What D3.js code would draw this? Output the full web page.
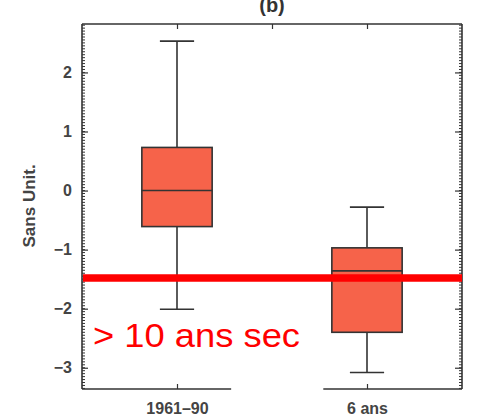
<!DOCTYPE html>
<html>
<head>
<meta charset="utf-8">
<script src="https://cdn.jsdelivr.net/npm/d3@7"></script>
<style>
  body { margin: 0; background: #fff; }
  svg text { font-family: "Liberation Sans", Arial, sans-serif; }
</style>
</head>
<body>
<div id="chart"></div>
<script>
// categories (the middle slot is empty in the source figure)
var categories = ["1961–90", "", "6 ans"];
var catPos = [1, 2, 3];
// box statistics
var whiskerHigh = [2.53, null, -0.28];
var q3 = [0.73, null, -0.97];
var medians = [0.0, null, -1.36];
var q1 = [-0.61, null, -2.40];
var whiskerLow = [-2.01, null, -3.08];
var yTicks = [-3, -2, -1, 0, 1, 2];
var threshold = -1.48;
var thresholdLabel = "> 10 ans sec";
var yLabel = "Sans Unit.";
var title = "(b)";

var W = 490, H = 418;
var mLeft = 82, mRight = 462, mTop = 24, mBottom = 389;

var svg = d3.select("#chart").append("svg").attr("width", W).attr("height", H);

var x = d3.scaleLinear().domain([0, 4]).range([mLeft, mRight]);
var y = d3.scaleLinear().domain([-3.36, 2.82]).range([mBottom, mTop]);

var ink = "#333";
var boxW = 0.74, capW = 0.36;

var boxes = categories.map(function (c, i) {
    return { name: c, pos: catPos[i], hi: whiskerHigh[i], q3: q3[i], med: medians[i], q1: q1[i], lo: whiskerLow[i] };
}).filter(function (d) { return d.med !== null; });

// minor ticks every 0.05
var minor = d3.range(-3.35, 2.82, 0.05).map(function (v) { return Math.round(v * 100) / 100; });

// left axis
var la = svg.append("g").attr("transform", "translate(" + mLeft + ",0)");
la.selectAll(".mn").data(minor).enter().append("line")
    .attr("x1", 0).attr("x2", 3)
    .attr("y1", function (d) { return y(d); }).attr("y2", function (d) { return y(d); })
    .attr("stroke", ink).attr("stroke-width", 1);
la.call(d3.axisLeft(y).tickValues(yTicks).tickSizeInner(-6).tickSizeOuter(0)
    .tickFormat(function (d) { return d3.format("d")(d).replace("-", "−"); }).tickPadding(10));
la.select(".domain").remove();
la.selectAll(".tick line").attr("stroke", ink).attr("stroke-width", 1.2);
la.selectAll(".tick text").attr("font-size", 16).attr("font-weight", "bold").attr("fill", "#444");

// right axis
var ra = svg.append("g").attr("transform", "translate(" + mRight + ",0)");
ra.selectAll(".mn").data(minor).enter().append("line")
    .attr("x1", 0).attr("x2", -3)
    .attr("y1", function (d) { return y(d); }).attr("y2", function (d) { return y(d); })
    .attr("stroke", ink).attr("stroke-width", 1);
ra.call(d3.axisRight(y).tickValues(yTicks).tickSizeInner(-7).tickSizeOuter(0).tickFormat(""));
ra.select(".domain").remove();
ra.selectAll(".tick line").attr("stroke", ink).attr("stroke-width", 1.2);

// top axis
var ta = svg.append("g").attr("transform", "translate(0," + mTop + ")");
ta.call(d3.axisTop(x).tickValues(catPos).tickSizeInner(-5).tickSizeOuter(0).tickFormat(""));
ta.select(".domain").remove();
ta.selectAll(".tick line").attr("stroke", ink).attr("stroke-width", 1.2);

// bottom axis (only the filled categories)
var ba = svg.append("g").attr("transform", "translate(0," + mBottom + ")");
ba.call(d3.axisBottom(x).tickValues(boxes.map(function (d) { return d.pos; }))
    .tickSizeInner(-5).tickSizeOuter(0).tickPadding(14)
    .tickFormat(function (d) { return categories[catPos.indexOf(d)]; }));
ba.select(".domain").remove();
ba.selectAll(".tick line").attr("stroke", ink).attr("stroke-width", 1.2);
ba.selectAll(".tick text").attr("font-size", 16).attr("font-weight", "bold").attr("fill", "#444");

// frame lines (bottom one broken around the empty slot)
var frame = svg.append("g").attr("stroke", ink).attr("stroke-width", 1.6).attr("fill", "none");
frame.append("line").attr("x1", mLeft).attr("x2", mLeft).attr("y1", mTop).attr("y2", mBottom);
frame.append("line").attr("x1", mRight).attr("x2", mRight).attr("y1", mTop).attr("y2", mBottom);
frame.append("line").attr("x1", mLeft).attr("x2", mRight).attr("y1", mTop).attr("y2", mTop);
frame.append("line").attr("x1", mLeft).attr("x2", x(1.57)).attr("y1", mBottom).attr("y2", mBottom);
frame.append("line").attr("x1", x(2.54)).attr("x2", mRight).attr("y1", mBottom).attr("y2", mBottom);

// boxes
var g = svg.append("g");
var bx = g.selectAll(".box").data(boxes).enter().append("g");
bx.append("line")
    .attr("x1", function (d) { return x(d.pos); }).attr("x2", function (d) { return x(d.pos); })
    .attr("y1", function (d) { return y(d.hi); }).attr("y2", function (d) { return y(d.q3); })
    .attr("stroke", ink).attr("stroke-width", 1.6);
bx.append("line")
    .attr("x1", function (d) { return x(d.pos); }).attr("x2", function (d) { return x(d.pos); })
    .attr("y1", function (d) { return y(d.q1); }).attr("y2", function (d) { return y(d.lo); })
    .attr("stroke", ink).attr("stroke-width", 1.6);
["hi", "lo"].forEach(function (k) {
    bx.append("line")
        .attr("x1", function (d) { return x(d.pos - capW / 2); }).attr("x2", function (d) { return x(d.pos + capW / 2); })
        .attr("y1", function (d) { return y(d[k]); }).attr("y2", function (d) { return y(d[k]); })
        .attr("stroke", ink).attr("stroke-width", 1.6);
});
bx.append("rect")
    .attr("x", function (d) { return x(d.pos - boxW / 2); })
    .attr("width", x(boxW) - x(0))
    .attr("y", function (d) { return y(d.q3); })
    .attr("height", function (d) { return y(d.q1) - y(d.q3); })
    .attr("fill", "#f6634a").attr("stroke", ink).attr("stroke-width", 1.6);
bx.append("line")
    .attr("x1", function (d) { return x(d.pos - boxW / 2); }).attr("x2", function (d) { return x(d.pos + boxW / 2); })
    .attr("y1", function (d) { return y(d.med); }).attr("y2", function (d) { return y(d.med); })
    .attr("stroke", ink).attr("stroke-width", 1.6);

// y label
svg.append("text")
    .attr("transform", "translate(35," + y(-0.26) + ") rotate(-90)")
    .attr("text-anchor", "middle").attr("font-size", 17).attr("font-weight", "bold").attr("fill", "#444")
    .text(yLabel);

// title (partly cut at the top, as in the source)
svg.append("text")
    .attr("x", x(2)).attr("y", 12)
    .attr("text-anchor", "middle").attr("font-size", 20).attr("font-weight", "bold").attr("fill", "#333")
    .text(title);

// threshold overlay
svg.append("line")
    .attr("x1", mLeft + 1).attr("x2", mRight)
    .attr("y1", y(threshold)).attr("y2", y(threshold))
    .attr("stroke", "#ff0000").attr("stroke-width", 7.5);
svg.append("text")
    .attr("x", 93).attr("y", 347)
    .attr("font-family", "'Open Sans', sans-serif")
    .attr("font-size", 33).attr("fill", "#ff0000")
    .attr("textLength", 207).attr("lengthAdjust", "spacingAndGlyphs")
    .text(thresholdLabel);
</script>
</body>
</html>
